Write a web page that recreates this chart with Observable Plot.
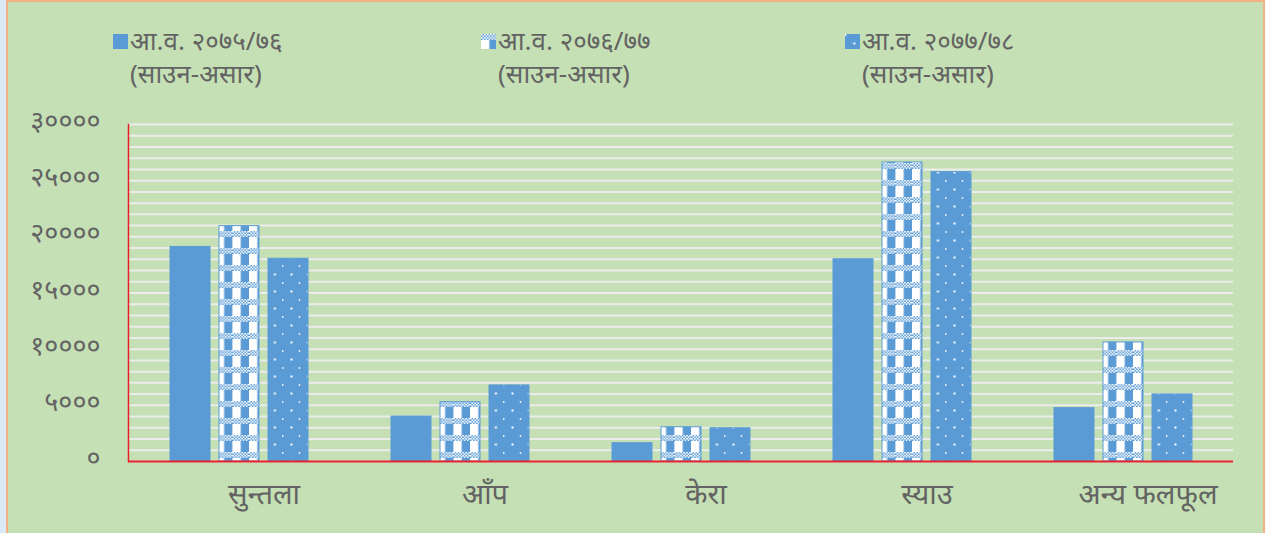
<!DOCTYPE html>
<html><head><meta charset="utf-8">
<script src="https://cdn.jsdelivr.net/npm/d3@7"></script>
<script src="https://cdn.jsdelivr.net/npm/@observablehq/plot@0.6"></script>
<style>
body{margin:0;background:#dce9f7;width:1265px;height:533px;overflow:hidden;position:relative;font-family:"Noto Sans","Lohit Devanagari","FreeSans",sans-serif;color:#595959;}
#box{position:absolute;left:6px;top:0;width:1255px;height:540px;border:2px solid #f4b183;background:#c5e0b4;}
#defs{position:absolute;width:0;height:0;left:0;top:0;}
.leg{position:absolute;top:24px;font-size:26px;line-height:33px;color:#636363;white-space:nowrap;}
.leg svg{position:absolute;left:-17px;top:10px;}
#chart{position:absolute;left:0;top:95px;}
</style></head>
<body>
<div id="box"></div>
<svg id="defs" width="0" height="0">
  <defs>
    <pattern id="chk" patternUnits="userSpaceOnUse" width="3" height="3">
      <rect width="3" height="3" fill="#5b9bd5"/>
      <rect width="1.5" height="1.5" fill="#ffffff"/>
      <rect x="1.5" y="1.5" width="1.5" height="1.5" fill="#ffffff"/>
    </pattern>
    <pattern id="plaid" patternUnits="userSpaceOnUse" width="16.6" height="17">
      <rect width="16.6" height="17" fill="#5b9bd5"/>
      <rect x="0" y="6" width="8.3" height="11" fill="#ffffff"/>
      <rect x="0" y="0" width="16.6" height="6" fill="url(#chk)"/>
    </pattern>
    <pattern id="dots" patternUnits="userSpaceOnUse" width="16.6" height="17">
      <rect width="16.6" height="17" fill="#5b9bd5"/>
      <rect x="0" y="0" width="1.2" height="2" fill="#ffffff"/>
      <rect x="8.3" y="8.5" width="2" height="2" fill="#ffffff"/>
    </pattern>
  </defs>
</svg>
<div id="legend"></div>
<div id="chart"></div>
<script>
const categories = ["सुन्तला", "आँप", "केरा", "स्याउ", "अन्य फलफूल"];
const seriesNames = ["आ.व. २०७५/७६", "आ.व. २०७६/७७", "आ.व. २०७७/७८"];
const seriesSub = "(साउन-असार)";
const values7576 = [19100, 4000, 1630, 18000, 4750];
const values7677 = [20950, 5280, 3050, 26620, 10600];
const values7778 = [18050, 6770, 2960, 25760, 5970];
const yTicks = [0, 5000, 10000, 15000, 20000, 25000, 30000];
const yTickLabels = ["०", "५०००", "१००००", "१५०००", "२००००", "२५०००", "३००००"];
const gridTicks = d3.range(0, 30001, 1000);
const fills = ["#5b9bd5", "url(#plaid)", "url(#dots)"];
const legendLefts = [130, 498, 862];

const seriesValues = [values7576, values7677, values7778];
const data = [];
seriesValues.forEach((vals, si) => vals.forEach((v, ci) => data.push({cat: categories[ci], series: seriesNames[si], value: v})));

const chart = Plot.plot({
  width: 1265,
  height: 438,
  marginLeft: 128,
  marginRight: 32,
  marginTop: 29,
  marginBottom: 72,
  style: {background: "transparent", color: "#595959", fontFamily: "'Noto Sans','Lohit Devanagari',FreeSans,sans-serif"},
  fx: {domain: categories, padding: 0, label: null},
  x: {domain: seriesNames, paddingInner: 0.19, paddingOuter: 0.83, axis: null},
  y: {domain: [0, 30000], label: null},
  marks: [
    Plot.gridY(gridTicks, {stroke: "#ececec", strokeOpacity: 1, strokeWidth: 2}),
    ...seriesNames.map((s, i) => Plot.barY(data.filter(d => d.series === s), {
      fx: "cat", x: "series", y: "value", fill: fills[i], stroke: "#5b9bd5", strokeWidth: 1
    })),
    Plot.ruleY([0], {stroke: "#e8202a", strokeWidth: 2}),
    Plot.frame({anchor: "left", facetAnchor: "left", stroke: "#e8202a", strokeWidth: 1.5}),
    Plot.axisY(yTicks, {tickSize: 0, tickPadding: 28, dy: -3, fontSize: 27, fill: "#636363", tickFormat: d => yTickLabels[yTicks.indexOf(d)], label: null}),
    Plot.axisFx({anchor: "bottom", tickSize: 0, tickPadding: 22, dx: 25, fontSize: 29, fill: "#636363", label: null})
  ]
});
document.getElementById("chart").appendChild(chart);

const legend = document.getElementById("legend");
seriesNames.forEach((s, i) => {
  const div = document.createElement("div");
  div.className = "leg";
  div.style.left = legendLefts[i] + "px";
  div.innerHTML = `<svg width="15" height="15"><rect width="15" height="15" fill="${fills[i]}"/></svg>${s}<br>${seriesSub}`;
  legend.appendChild(div);
});
</script>
</body></html>
